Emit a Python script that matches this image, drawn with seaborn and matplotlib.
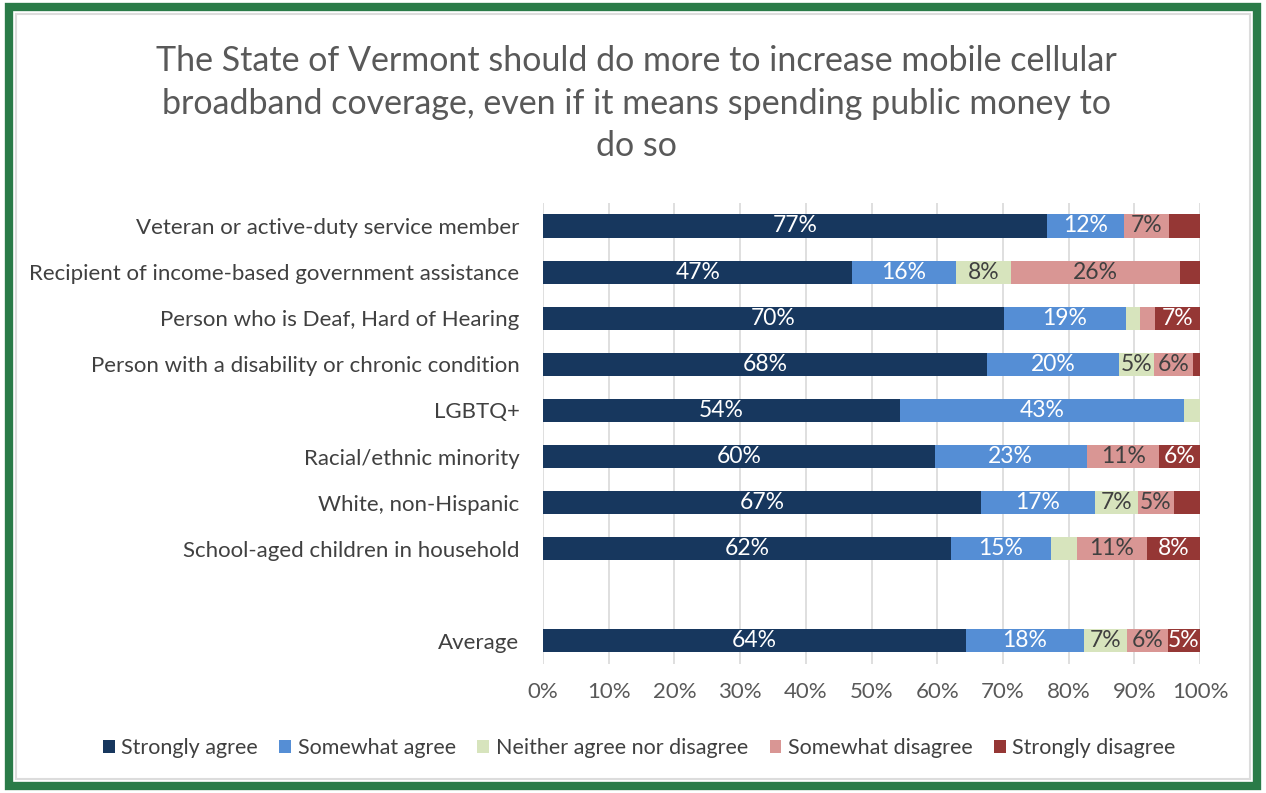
import numpy as np
import pandas as pd
import matplotlib
matplotlib.use("Agg")
import matplotlib.pyplot as plt
from matplotlib.patches import Rectangle, Patch
import seaborn as sns

title = ("The State of Vermont should do more to increase mobile cellular\n"
         "broadband coverage, even if it means spending public money to\n"
         "do so")

categories = [
    "Veteran or active-duty service member",
    "Recipient of income-based government assistance",
    "Person who is Deaf, Hard of Hearing",
    "Person with a disability or chronic condition",
    "LGBTQ+",
    "Racial/ethnic minority",
    "White, non-Hispanic",
    "School-aged children in household",
    "Average",
]
series_names = ["Strongly agree", "Somewhat agree", "Neither agree nor disagree",
                "Somewhat disagree", "Strongly disagree"]
strongly_agree    = [76.7, 47.1, 70.1, 67.6, 54.3, 59.6, 66.6, 62.1, 64.4]
somewhat_agree    = [11.8, 15.7, 18.6, 20.1, 43.2, 23.2, 17.4, 15.2, 17.9]
neither           = [0.0,  8.4,  2.2,  5.3,  2.5,  0.0,  6.6,  4.0,  6.6]
somewhat_disagree = [6.8, 25.7,  2.2,  5.9,  0.0, 11.0,  5.4, 10.6,  6.2]
strongly_disagree = [4.7,  3.1,  6.9,  1.1,  0.0,  6.2,  4.0,  8.1,  4.9]
x_ticks = [0, 10, 20, 30, 40, 50, 60, 70, 80, 90, 100]

colors = ["#17375e", "#558ed5", "#d7e4bd", "#d99694", "#953735"]
text_colors = ["white", "white", "#404040", "#404040", "white"]

FONT = "Lato"
sns.set_theme(style="white")
plt.rcParams["font.family"] = [FONT, "DejaVu Sans"]

series = [strongly_agree, somewhat_agree, neither, somewhat_disagree, strongly_disagree]
vals = np.array(series)
cum = np.cumsum(vals, axis=0)

order = categories[:8] + [" "] + ["Average"]

fig = plt.figure(figsize=(12.66, 7.93), dpi=100)
ax = fig.add_axes([0.4289, 0.1627, 0.519, 0.5814])

# stacked via overlay of cumulative sums (longest first)
for i in range(4, -1, -1):
    df = pd.DataFrame({"cat": categories, "cum": cum[i]})
    sns.barplot(data=df, x="cum", y="cat", order=order, orient="h",
                color=colors[i], saturation=1, width=0.5, ax=ax,
                edgecolor="none", linewidth=0, zorder=3)

# labels
ypos = {c: order.index(c) for c in categories}
for i in range(5):
    for j, c in enumerate(categories):
        v = vals[i, j]
        if v >= 4.8:
            center = cum[i, j] - v / 2
            ax.text(center, ypos[c], f"{round(v):.0f}%", ha="center", va="center",
                    color=text_colors[i], fontsize=16.5, zorder=5)

ax.set_xlim(0, 100)
ax.set_ylim(9.5, -0.5)
ax.set_xticks(x_ticks)
ax.set_xticklabels([f"{t}%" for t in x_ticks])
ax.set_xlabel("")
ax.set_ylabel("")
ax.grid(axis="x", color="#d9d9d9", linewidth=1.2, zorder=0)
ax.set_axisbelow(True)
for s in ax.spines.values():
    s.set_visible(False)
ax.tick_params(axis="x", length=0, pad=13, labelsize=16, labelcolor="#595959")
ax.tick_params(axis="y", length=0, pad=17, labelsize=16, labelcolor="#404040")

fig.text(0.503, 0.869, title, ha="center", va="center", fontsize=24.5,
         color="#595959", linespacing=1.4)

handles = [Patch(facecolor=colors[i], edgecolor="none", label=series_names[i]) for i in range(5)]
fig.legend(handles=handles, loc="center", bbox_to_anchor=(0.505, 0.0567), ncol=5,
           frameon=False, fontsize=15.5, handlelength=0.55, handleheight=0.55,
           handletextpad=0.3, columnspacing=1.0, labelcolor="#404040")

# border
fig.patches.append(Rectangle((9/1266, 7/793), 1 - 18/1266, 1 - 14/793,
                             transform=fig.transFigure, fill=False,
                             edgecolor="#2a7b48", linewidth=6))
fig.patches.append(Rectangle((16/1266, 14/793), 1 - 32/1266, 1 - 28/793,
                             transform=fig.transFigure, fill=False,
                             edgecolor="#dcdcdc", linewidth=1.5))

fig.savefig("out.png", dpi=100)
